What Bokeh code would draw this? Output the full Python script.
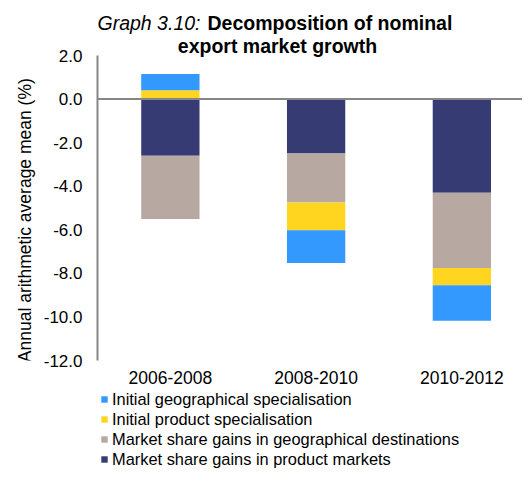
import numpy as np
from bokeh.plotting import figure
from bokeh.layouts import row, column
from bokeh.models import (Span, Label, Legend, LegendItem, FixedTicker,
                          NumeralTickFormatter, Range1d)
from bokeh.embed import file_html
from bokeh.resources import INLINE

categories = ["2006-2008", "2008-2010", "2010-2012"]
# series in stacking order
product_markets = [-2.6, -2.5, -4.3]
geo_destinations = [-2.9, -2.25, -3.45]
initial_product = [0.4, -1.27, -0.8]
initial_geo = [0.75, -1.51, -1.62]

series_names = ["Market share gains in product markets",
                "Market share gains in geographical destinations",
                "Initial product specialisation",
                "Initial geographical specialisation"]
series_values = [product_markets, geo_destinations, initial_product, initial_geo]
series_colors = ["#363B73", "#B7A9A2", "#FFD520", "#3399FF"]
legend_order = ["Initial geographical specialisation",
                "Initial product specialisation",
                "Market share gains in geographical destinations",
                "Market share gains in product markets"]

y_ticks = [2, 0, -2, -4, -6, -8, -10, -12]
y_min, y_max = -12, 2

FONT = "Liberation Sans"
TOP_H = 390
FRAME_BOTTOM = 360
# frame: top at canvas 0, bottom at 360; y=2 sits 55px below the top
px_per_unit = (FRAME_BOTTOM - 55) / (y_max - y_min)
y_top = y_max + 55 / px_per_unit


def blank(fig):
    fig.outline_line_color = None
    fig.grid.visible = False
    fig.background_fill_color = "white"
    fig.border_fill_color = "white"


# ---------------- main chart ----------------
p = figure(width=482, height=TOP_H, output_backend="svg", toolbar_location=None,
           x_range=Range1d(0, 2.916), y_range=Range1d(y_min, y_top),
           min_border_left=57, min_border_right=0, min_border_top=0,
           min_border_bottom=TOP_H - FRAME_BOTTOM)
blank(p)

xs = np.arange(len(categories)) + 0.5
pos = np.zeros(len(categories))
neg = np.zeros(len(categories))
for name, vals, col in zip(series_names, series_values, series_colors):
    v = np.array(vals, dtype=float)
    bottom = np.where(v >= 0, pos, neg)
    top = bottom + v
    pos = np.where(v >= 0, top, pos)
    neg = np.where(v < 0, top, neg)
    p.vbar(x=xs, top=top, bottom=bottom, width=0.4, fill_color=col,
           line_color=None)

p.add_layout(Span(location=0, dimension="width", line_color="#868686",
                  line_width=2))

ya = p.yaxis[0]
ya.ticker = FixedTicker(ticks=y_ticks)
ya.bounds = (y_min, y_max)
ya.formatter = NumeralTickFormatter(format="0.0")
ya.axis_line_color = "#868686"
ya.axis_line_width = 2
ya.major_tick_line_color = None
ya.minor_tick_line_color = None
ya.major_tick_out = 0
ya.major_tick_in = 0
ya.minor_tick_out = 0
ya.major_label_text_font = FONT
ya.major_label_text_font_size = "17px"
ya.major_label_text_color = "black"
ya.major_label_standoff = 15

xa = p.xaxis[0]
xa.ticker = FixedTicker(ticks=list(xs))
xa.major_label_overrides = {float(x): c for x, c in zip(xs, categories)}
xa.axis_line_color = None
xa.major_tick_line_color = None
xa.minor_tick_line_color = None
xa.major_tick_out = 0
xa.major_tick_in = 0
xa.minor_tick_out = 0
xa.major_label_text_font = FONT
xa.major_label_text_font_size = "17.5px"
xa.major_label_text_color = "black"
xa.major_label_standoff = 10

# title (inside the frame, above the axis bounds)
t1_y = y_max + (55 - 22) / px_per_unit
t2_y = y_max + (55 - 45) / px_per_unit
unit_px = 425 / 2.916
p.add_layout(Label(x=0, y=t1_y, text="Graph 3.10:", text_font=FONT,
                   text_font_style="italic", text_font_size="19.5px",
                   text_align="left", text_baseline="middle", text_color="black"))
p.add_layout(Label(x=(207 - 97) / unit_px, y=t1_y, text="Decomposition of nominal",
                   text_font=FONT, text_font_style="bold", text_font_size="19.5px",
                   text_align="left", text_baseline="middle", text_color="black"))
p.add_layout(Label(x=(277 - 97) / unit_px, y=t2_y, text="export market growth",
                   text_font=FONT, text_font_style="bold", text_font_size="19.5px",
                   text_align="center", text_baseline="middle", text_color="black"))

# ---------------- y-axis title ----------------
yl = figure(width=40, height=TOP_H, output_backend="svg", toolbar_location=None,
            x_range=Range1d(0, 40), y_range=Range1d(0, TOP_H), min_border=0,
            x_axis_location=None, y_axis_location=None)
blank(yl)
yl.add_layout(Label(x=24, y=TOP_H - 238, text="Annual arithmetic average mean (%)",
                    angle=np.pi / 2, text_align="center", text_baseline="middle",
                    text_font=FONT, text_font_size="17.5px", text_color="black"))

# ---------------- legend ----------------
LEG_H = 469 - TOP_H
lg = figure(width=522, height=LEG_H, output_backend="svg", toolbar_location=None,
            x_range=Range1d(0, 1), y_range=Range1d(0, 1), min_border=0,
            x_axis_location=None, y_axis_location=None)
blank(lg)
col_of = dict(zip(series_names, series_colors))
items = []
for n in legend_order:
    # swatch-only renderer, kept outside the visible range
    r = lg.vbar(x=[-5], top=[0], bottom=[0], width=0.1, fill_color=col_of[n],
                line_color=None)
    items.append(LegendItem(label=n, renderers=[r]))
legend = Legend(items=items, location=(100, 0), orientation="vertical",
                glyph_width=8, glyph_height=8, label_height=20, spacing=0,
                padding=0, margin=0, label_standoff=4,
                label_text_font=FONT, label_text_font_size="16.4px",
                label_text_color="black", border_line_color=None,
                background_fill_alpha=0)
lg.add_layout(legend)

layout = column(row(yl, p), lg)
open("out.html", "w").write(file_html(layout, INLINE))
